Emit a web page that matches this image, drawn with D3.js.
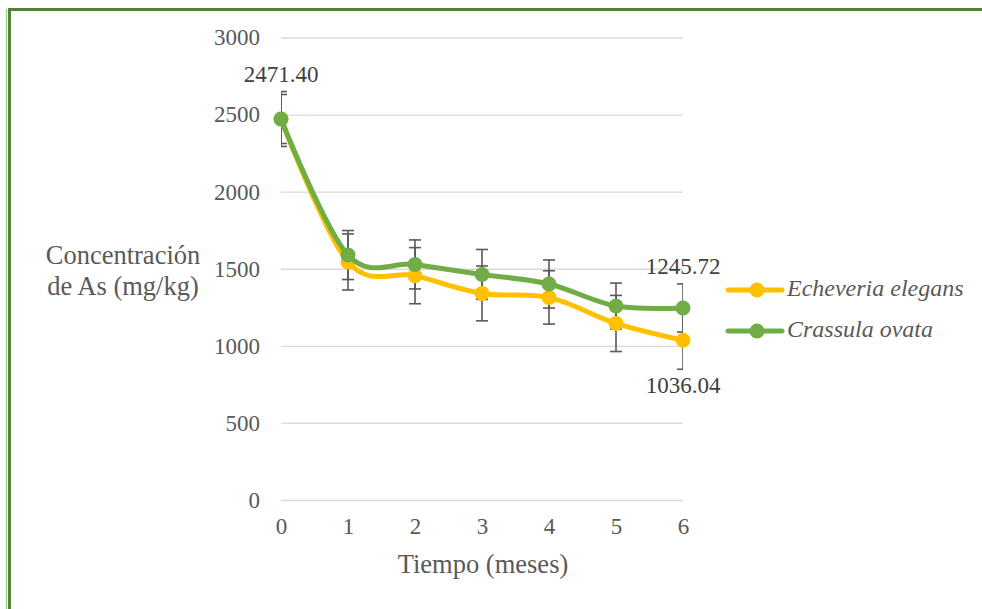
<!DOCTYPE html>
<html lang="es">
<head>
<meta charset="UTF-8">
<title>Concentración de As</title>
<script src="https://cdn.jsdelivr.net/npm/d3@7"></script>
<style>
  body { margin: 0; background: #fff; }
  svg { display: block; font-family: "Liberation Serif", "Times New Roman", serif; }
  svg text { font-family: "Liberation Serif", "Times New Roman", serif; }
  .grid line { stroke: #d9d9d9; stroke-width: 1.3; }
  .tick text { fill: #595959; font-size: 23px; }
</style>
</head>
<body>
<div id="root"></div>
<script>
  // datos
  let meses = [0, 1, 2, 3, 4, 5, 6]
  let echeveria = [2471.40, 1544, 1455, 1340, 1314, 1145, 1036.04]
  let echeveriaErr = [178, 182, 182, 178, 173, 182, 188]
  let crassula = [2471.40, 1589, 1528, 1463, 1401, 1258, 1245.72]
  let crassulaErr = [159, 159, 159, 162, 156, 149, 156]
  let yTicks = [0, 500, 1000, 1500, 2000, 2500, 3000]

  let series = [
    { name: "Echeveria elegans", values: echeveria, err: echeveriaErr, color: "#FFC000" },
    { name: "Crassula ovata", values: crassula, err: crassulaErr, color: "#70AD47" }
  ]

  let width = 982, height = 609
  let plotLeft = 281, plotRight = 683, plotTop = 37.5, plotBottom = 500

  let svg = d3.select("#root").append("svg").attr("width", width).attr("height", height)

  // marco verde
  svg.append("line").attr("x1", 6.5).attr("x2", 6.5).attr("y1", 9).attr("y2", height)
    .attr("stroke", "#a9c98f").attr("stroke-width", 1.5)
  svg.append("rect").attr("x", 9.5).attr("y", 9.5).attr("width", width + 20).attr("height", height + 20)
    .attr("fill", "none").attr("stroke", "#548235").attr("stroke-width", 3)

  let x = d3.scalePoint().domain(meses).range([plotLeft, plotRight])
  let y = d3.scaleLinear().domain([0, 3000]).range([plotBottom, plotTop])

  // eje y con rejilla
  let yAxis = svg.append("g").attr("class", "grid")
    .attr("transform", "translate(" + plotLeft + ",0)")
    .call(d3.axisLeft(y).tickValues(yTicks).tickFormat(d3.format("d"))
      .tickSize(-(plotRight - plotLeft)).tickPadding(21))
    .attr("font-family", null).attr("font-size", null)
  yAxis.select(".domain").remove()

  // eje x
  let xAxis = svg.append("g").attr("class", "grid")
    .attr("transform", "translate(0," + plotBottom + ")")
    .call(d3.axisBottom(x).tickSize(0).tickPadding(18))
    .attr("font-family", null).attr("font-size", null)
  xAxis.select(".domain").remove()

  svg.append("clipPath").attr("id", "plot").append("rect")
    .attr("x", plotLeft).attr("y", 0).attr("width", plotRight - plotLeft).attr("height", height)

  // barras de error
  let errG = svg.append("g").attr("clip-path", "url(#plot)")
    .attr("stroke", "#595959").attr("stroke-width", 1.6)
  series.forEach(function (s) {
    s.values.forEach(function (v, i) {
      let cx = x(meses[i]), y1 = y(v + s.err[i]), y2 = y(v - s.err[i])
      errG.append("line").attr("x1", cx).attr("x2", cx).attr("y1", y1).attr("y2", y2)
      errG.append("line").attr("x1", cx - 6).attr("x2", cx + 6).attr("y1", y1).attr("y2", y1)
      errG.append("line").attr("x1", cx - 6).attr("x2", cx + 6).attr("y1", y2).attr("y2", y2)
    })
  })

  // lineas suavizadas
  let line = d3.line()
    .x(function (d, i) { return x(meses[i]) })
    .y(function (d) { return y(d) })
    .curve(d3.curveCardinal.tension(0))

  series.forEach(function (s) {
    svg.append("path").datum(s.values).attr("d", line)
      .attr("fill", "none").attr("stroke", s.color).attr("stroke-width", 5)
      .attr("stroke-linejoin", "round").attr("stroke-linecap", "round")
    svg.append("g").selectAll("circle").data(s.values).join("circle")
      .attr("cx", function (d, i) { return x(meses[i]) })
      .attr("cy", function (d) { return y(d) })
      .attr("r", 7.5).attr("fill", s.color)
  })

  // etiquetas de datos
  let labels = [
    { i: 0, v: crassula[0], dy: -42 },
    { i: 6, v: crassula[6], dy: -39 },
    { i: 6, v: echeveria[6], dy: 47 }
  ]
  svg.append("g").selectAll("text").data(labels).join("text")
    .attr("x", function (d) { return x(meses[d.i]) })
    .attr("y", function (d) { return y(d.v) + d.dy })
    .attr("text-anchor", "middle").attr("dominant-baseline", "middle")
    .attr("font-size", 23).attr("fill", "#404040")
    .text(function (d) { return d3.format(".2f")(d.v) })

  // titulos de ejes
  svg.append("text").attr("x", 483).attr("y", 567)
    .attr("text-anchor", "middle").attr("dominant-baseline", "middle")
    .attr("font-size", 26.5).attr("fill", "#595959").text("Tiempo (meses)")
  let yt = svg.append("text").attr("text-anchor", "middle").attr("font-size", 26.5).attr("fill", "#595959")
  yt.append("tspan").attr("x", 123).attr("y", 264).text("Concentración")
  yt.append("tspan").attr("x", 123).attr("y", 295).text("de As (mg/kg)")

  // leyenda
  let legend = svg.append("g").selectAll("g").data(series).join("g")
    .attr("transform", function (d, i) { return "translate(728," + (290 + i * 41) + ")" })
  legend.append("line").attr("x1", 0).attr("x2", 54).attr("y1", 0).attr("y2", 0)
    .attr("stroke", function (d) { return d.color }).attr("stroke-width", 5).attr("stroke-linecap", "round")
  legend.append("circle").attr("cx", 29).attr("cy", 0).attr("r", 7.5)
    .attr("fill", function (d) { return d.color })
  legend.append("text").attr("x", 59).attr("y", 0).attr("dominant-baseline", "middle")
    .attr("font-size", 24).attr("font-style", "italic").attr("fill", "#595959")
    .text(function (d) { return d.name })
</script>
</body>
</html>
